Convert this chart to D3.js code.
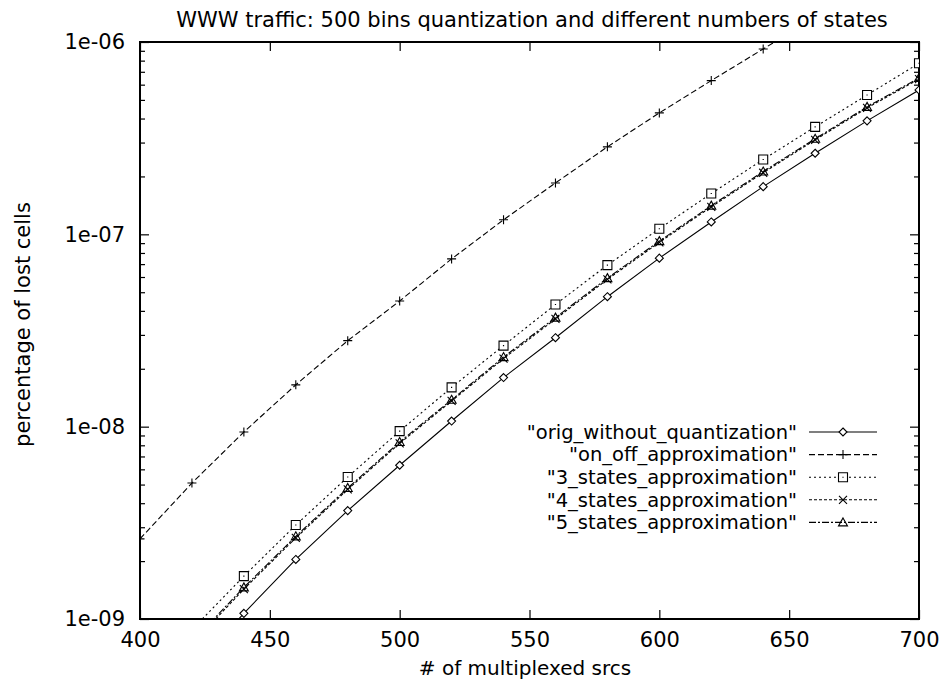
<!DOCTYPE html>
<html>
<head>
<meta charset="utf-8">
<script src="https://cdn.jsdelivr.net/npm/d3@7"></script>
<style>
  body { margin: 0; background: #fff; }
  text { font-family: "DejaVu Sans", "Liberation Sans", Arial, sans-serif; fill: #000; }
</style>
</head>
<body>
<div id="chart-area"></div>
<script>
// values (percentage of lost cells vs number of sources)
var srcs = [400, 420, 440, 460, 480, 500, 520, 540, 560, 580, 600, 620, 640, 660, 680, 700];
var origLoss  = [null, 5.4e-10, 1.07e-9, 2.04e-9, 3.66e-9, 6.3e-9, 1.07e-8, 1.80e-8, 2.90e-8, 4.74e-8, 7.52e-8, 1.16e-7, 1.77e-7, 2.64e-7, 3.89e-7, 5.63e-7];
var onOffLoss = [2.61e-9, 5.09e-9, 9.38e-9, 1.65e-8, 2.80e-8, 4.5e-8, 7.45e-8, 1.19e-7, 1.85e-7, 2.85e-7, 4.28e-7, 6.3e-7, 9.2e-7, 1.35e-6, null, null];
var threeLoss = [null, 8.8e-10, 1.67e-9, 3.08e-9, 5.47e-9, 9.48e-9, 1.60e-8, 2.64e-8, 4.32e-8, 6.92e-8, 1.07e-7, 1.63e-7, 2.45e-7, 3.62e-7, 5.3e-7, 7.75e-7];
var fourLoss  = [null, 7.4e-10, 1.43e-9, 2.64e-9, 4.72e-9, 8.19e-9, 1.36e-8, 2.26e-8, 3.63e-8, 5.83e-8, 9.08e-8, 1.39e-7, 2.09e-7, 3.10e-7, 4.54e-7, 6.42e-7];
var fiveLoss  = [null, 7.6e-10, 1.46e-9, 2.69e-9, 4.80e-9, 8.33e-9, 1.38e-8, 2.30e-8, 3.69e-8, 5.92e-8, 9.22e-8, 1.41e-7, 2.12e-7, 3.14e-7, 4.60e-7, 6.50e-7];

var seriesNames = ['"orig_without_quantization"', '"on_off_approximation"', '"3_states_approximation"',
                   '"4_states_approximation"', '"5_states_approximation"'];

var xTickValues = [400, 450, 500, 550, 600, 650, 700];
var yTickValues = [1e-9, 1e-8, 1e-7, 1e-6];
var yTickLabels = ["1e-09", "1e-08", "1e-07", "1e-06"];

var titleText = "WWW traffic: 500 bins quantization and different numbers of states";
var xLabel = "# of multiplexed srcs";
var yLabel = "percentage of lost cells";

var width = 940, height = 681;
var margin = {top: 42, right: 21, bottom: 62, left: 140};
var plotW = width - margin.left - margin.right;
var plotH = height - margin.top - margin.bottom;
var fontSize = "21px";

var svg = d3.select("#chart-area").append("svg")
    .attr("width", width)
    .attr("height", height);

var x = d3.scaleLinear().domain([400, 700]).range([0, plotW]);
var y = d3.scaleLog().domain([1e-9, 1e-6]).range([plotH, 0]);

var g = svg.append("g").attr("transform", "translate(" + margin.left + "," + margin.top + ")");

svg.append("defs").append("clipPath").attr("id", "plotclip")
  .append("rect").attr("x", 0).attr("y", 0).attr("width", plotW).attr("height", plotH);

// minor log ticks
var minorVals = [];
[1e-9, 1e-8, 1e-7].forEach(function(base){
    for (var k = 2; k <= 9; k++) { minorVals.push(base * k); }
});

function styleAxis(sel) {
    sel.select(".domain").remove();
    sel.selectAll("line").attr("stroke", "#000").attr("stroke-width", 1.2);
    sel.selectAll("text").attr("font-size", fontSize).attr("font-family", null);
}

g.append("g")
    .call(d3.axisLeft(y).tickValues(yTickValues).tickSize(-9).tickPadding(15)
        .tickFormat(function(d, i){ return yTickLabels[i]; }))
    .call(styleAxis);
g.append("g")
    .call(d3.axisLeft(y).tickValues(minorVals).tickSize(-5).tickFormat(""))
    .call(styleAxis);
g.append("g").attr("transform", "translate(" + plotW + ",0)")
    .call(d3.axisRight(y).tickValues(yTickValues).tickSize(-9).tickFormat(""))
    .call(styleAxis);
g.append("g").attr("transform", "translate(" + plotW + ",0)")
    .call(d3.axisRight(y).tickValues(minorVals).tickSize(-5).tickFormat(""))
    .call(styleAxis);
g.append("g").attr("transform", "translate(0," + plotH + ")")
    .call(d3.axisBottom(x).tickValues(xTickValues).tickSize(-9).tickPadding(13).tickFormat(d3.format("d")))
    .call(styleAxis);
g.append("g")
    .call(d3.axisTop(x).tickValues(xTickValues).tickSize(-9).tickFormat(""))
    .call(styleAxis);

// frame
g.append("rect")
    .attr("width", plotW).attr("height", plotH)
    .attr("fill", "none").attr("stroke", "#000").attr("stroke-width", 2);

var series = [
    {name: seriesNames[0], vals: origLoss,  dash: null,      marker: "diamond"},
    {name: seriesNames[1], vals: onOffLoss, dash: "6,3",     marker: "plus"},
    {name: seriesNames[2], vals: threeLoss, dash: "2,3",     marker: "square"},
    {name: seriesNames[3], vals: fourLoss,  dash: "3,2",     marker: "cross"},
    {name: seriesNames[4], vals: fiveLoss,  dash: "7,2,2,2", marker: "triangle"}
];

var line = d3.line()
    .defined(function(d){ return d.v != null; })
    .x(function(d){ return x(d.s); })
    .y(function(d){ return y(d.v); });

function markerPath(type, cx, cy) {
    var p = d3.path();
    if (type === "diamond") {
        p.moveTo(cx, cy - 4); p.lineTo(cx + 4, cy); p.lineTo(cx, cy + 4); p.lineTo(cx - 4, cy); p.closePath();
    } else if (type === "plus") {
        p.moveTo(cx - 4.5, cy); p.lineTo(cx + 4.5, cy); p.moveTo(cx, cy - 4.5); p.lineTo(cx, cy + 4.5);
    } else if (type === "square") {
        p.rect(cx - 4.5, cy - 4.5, 9, 9);
        p.moveTo(cx - 0.6, cy); p.lineTo(cx + 0.6, cy);
    } else if (type === "cross") {
        p.moveTo(cx - 4, cy - 4); p.lineTo(cx + 4, cy + 4); p.moveTo(cx - 4, cy + 4); p.lineTo(cx + 4, cy - 4);
    } else if (type === "triangle") {
        p.moveTo(cx, cy - 4.5); p.lineTo(cx + 4.5, cy + 3.5); p.lineTo(cx - 4.5, cy + 3.5); p.closePath();
    }
    return p.toString();
}

var plot = g.append("g").attr("clip-path", "url(#plotclip)");

series.forEach(function(s){
    var pts = srcs.map(function(v, i){ return {s: v, v: s.vals[i]}; });
    plot.append("path")
        .datum(pts)
        .attr("d", line)
        .attr("fill", "none")
        .attr("stroke", "#000")
        .attr("stroke-width", 1.1)
        .attr("stroke-dasharray", s.dash);

    var inside = pts.filter(function(d){ return d.v != null && d.v >= 1e-9 && d.v <= 1e-6; });
    plot.selectAll(null)
        .data(inside)
        .enter()
        .append("path")
            .attr("d", function(d){ return markerPath(s.marker, x(d.s), y(d.v)); })
            .attr("fill", "#fff")
            .attr("fill-opacity", s.marker === "triangle" ? 0 : 1)
            .attr("stroke", "#000")
            .attr("stroke-width", 1.1);
});

// legend (text right-aligned, sample line with marker)
var legendRight = 797 - margin.left;
series.forEach(function(s, i){
    var ly = 390 + i * 22.6;
    g.append("text")
        .attr("x", legendRight).attr("y", ly)
        .attr("dy", "0.35em")
        .attr("text-anchor", "end")
        .attr("font-size", "19.5px")
        .text(s.name);
    g.append("line")
        .attr("x1", legendRight + 12).attr("x2", legendRight + 80).attr("y1", ly).attr("y2", ly)
        .attr("stroke", "#000").attr("stroke-width", 1.1)
        .attr("stroke-dasharray", s.dash);
    g.append("path")
        .attr("d", markerPath(s.marker, legendRight + 46, ly))
        .attr("fill", "#fff").attr("fill-opacity", s.marker === "triangle" ? 0 : 1)
        .attr("stroke", "#000").attr("stroke-width", 1.1);
});

// title and axis labels
svg.append("text")
    .attr("x", 532).attr("y", 27)
    .attr("text-anchor", "middle")
    .attr("font-size", fontSize)
    .text(titleText);

svg.append("text")
    .attr("x", 525).attr("y", 675)
    .attr("text-anchor", "middle")
    .attr("font-size", "20px")
    .text(xLabel);

svg.append("text")
    .attr("transform", "translate(30," + (margin.top + plotH / 2 - 6) + ") rotate(-90)")
    .attr("text-anchor", "middle")
    .attr("font-size", fontSize)
    .text(yLabel);
</script>
</body>
</html>
